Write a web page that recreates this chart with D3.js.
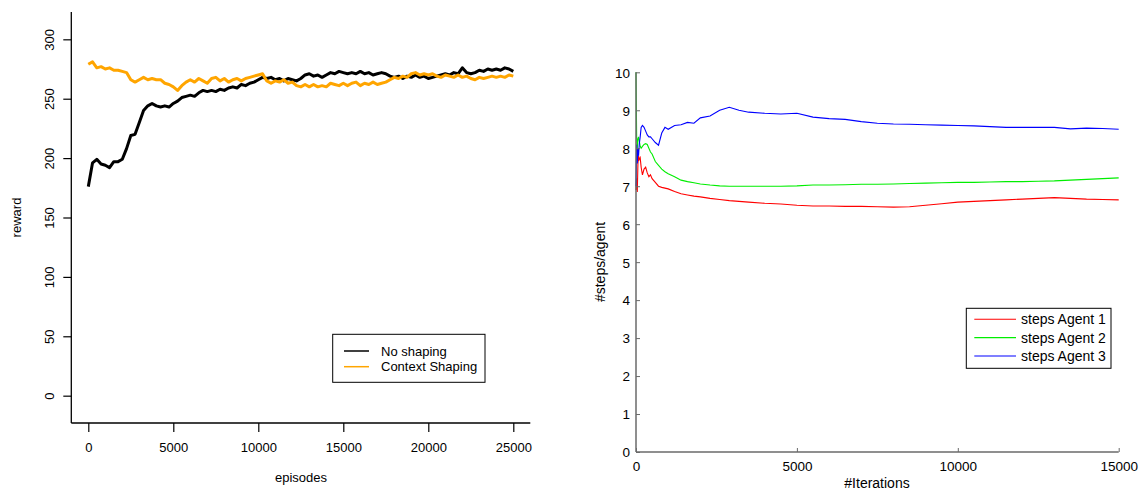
<!DOCTYPE html>
<html><head><meta charset="utf-8">
<script src="https://cdn.jsdelivr.net/npm/d3@7"></script>
<style>body{margin:0;background:#fff}svg{display:block}text{font-family:"Liberation Sans",Arial,sans-serif}</style>
</head><body><svg id="c" width="1143" height="491"></svg>
<script>
// ---------- Left chart data ----------
const episodes = [0,250,500,750,1000,1250,1500,1750,2000,2250,2500,2750,3000,3250,3500,3750,4000,4250,4500,4750,5000,5250,5500,5750,6000,6250,6500,6750,7000,7250,7500,7750,8000,8250,8500,8750,9000,9250,9500,9750,10000,10250,10500,10750,11000,11250,11500,11750,12000,12250,12500,12750,13000,13250,13500,13750,14000,14250,14500,14750,15000,15250,15500,15750,16000,16250,16500,16750,17000,17250,17500,17750,18000,18250,18500,18750,19000,19250,19500,19750,20000,20250,20500,20750,21000,21250,21500,21750,22000,22250,22500,22750,23000,23250,23500,23750,24000,24250,24500,24750,25000];
const noShaping = [176,196,199,195,194,192,197,197,199,208,219,220,230,240,244,246,244,243,244,243,246,248,251,252,253,252,255,257,256,257,256,258,257,259,260,259,262,261,263,264,266,268,267,268,266,267,265,267,266,265,267,270,271,269,270,268,270,272,271,273,272,271,272,271,273,271,272,270,271,272,271,269,268,269,267,269,268,270,268,269,267,268,269,270,271,270,272,271,276,272,271,272,274,273,275,274,275,274,276,275,273];
const contextShaping = [279,281,276,277,275,276,274,274,273,272,266,264,266,268,266,267,266,266,263,262,260,257,261,264,266,264,267,265,263,267,268,265,267,264,266,267,265,267,268,269,270,271,265,263,265,264,266,263,264,261,260,262,260,262,260,261,260,263,262,261,263,261,263,264,261,263,262,264,262,263,264,266,268,267,269,268,271,272,270,271,270,271,269,268,270,269,268,270,268,269,267,266,268,267,268,269,268,269,268,270,269];
const leftSeriesNames = ["No shaping","Context Shaping"];
const leftColors = ["#000000","#FFA500"];
const leftXTicks = [0,5000,10000,15000,20000,25000];
const leftYTicks = [0,50,100,150,200,250,300];

// ---------- Right chart data ----------
const iterations = [0,20,40,60,80,100,130,160,200,250,300,350,400,450,500,600,700,800,900,1000,1200,1400,1600,1800,2000,2300,2600,2900,3200,3500,4000,4500,5000,5500,6000,6500,7000,7500,8000,8500,9000,9500,10000,10500,11000,11500,12000,12500,13000,13500,14000,14500,15000];
const agent1 = [6.9,7.2,6.85,7.6,7.8,7.7,7.75,7.5,7.3,7.45,7.5,7.35,7.25,7.3,7.2,7.1,7.0,6.97,6.95,6.93,6.86,6.8,6.77,6.74,6.72,6.68,6.65,6.62,6.6,6.58,6.55,6.53,6.5,6.48,6.48,6.47,6.47,6.46,6.45,6.46,6.5,6.54,6.58,6.6,6.62,6.64,6.66,6.68,6.7,6.68,6.66,6.65,6.64];
const agent2 = [10,8.3,8.0,8.25,8.3,8.2,8.05,8.0,8.05,8.1,8.12,8.1,8.0,7.9,7.85,7.65,7.55,7.45,7.38,7.33,7.25,7.16,7.12,7.09,7.06,7.03,7.01,7.0,7.0,7.0,7.0,7.0,7.01,7.03,7.03,7.04,7.05,7.05,7.06,7.07,7.08,7.09,7.1,7.1,7.11,7.12,7.12,7.13,7.14,7.16,7.18,7.2,7.22];
const agent3 = [7.0,8.1,7.6,8.0,7.8,8.1,8.3,8.55,8.6,8.55,8.45,8.35,8.3,8.3,8.25,8.15,8.08,8.4,8.55,8.5,8.6,8.62,8.68,8.66,8.8,8.85,9.0,9.08,9.0,8.95,8.92,8.9,8.92,8.82,8.78,8.76,8.7,8.66,8.64,8.63,8.62,8.61,8.6,8.59,8.57,8.55,8.55,8.55,8.55,8.51,8.53,8.52,8.5];
const rightSeriesNames = ["steps Agent 1","steps Agent 2","steps Agent 3"];
const rightColors = ["#ff0000","#00ee00","#0000ff"];
const rightXTicks = [0,5000,10000,15000];
const rightYTicks = [0,1,2,3,4,5,6,7,8,9,10];

const svg = d3.select("#c");

// ================= LEFT =================
{
  const g = svg.append("g");
  const x = d3.scaleLinear().domain([-1000,26000]).range([71.3,530.3]);
  const y = d3.scaleLinear().domain([-23,323]).range([423,12]);
  const fs = 13;
  g.append("line").attr("x1",71.3).attr("x2",71.3).attr("y1",12).attr("y2",423).attr("stroke","#000").attr("stroke-width",1.3);
  g.append("line").attr("x1",71.3).attr("x2",530.3).attr("y1",423).attr("y2",423).attr("stroke","#000").attr("stroke-width",1.3);
  const xa = g.append("g").attr("transform","translate(0,423)").call(d3.axisBottom(x).tickValues(leftXTicks).tickSize(9).tickPadding(11).tickFormat(d3.format("d")));
  xa.select(".domain").remove();
  xa.selectAll("line").attr("stroke","#000").attr("stroke-width",1.2);
  xa.selectAll("text").attr("font-size",fs).attr("fill","#000").attr("font-family","Liberation Sans, Arial");
  const ya = g.append("g").attr("transform","translate(71.3,0)").call(d3.axisLeft(y).tickValues(leftYTicks).tickSize(8).tickFormat(d3.format("d")));
  ya.select(".domain").remove();
  ya.selectAll("line").attr("stroke","#000").attr("stroke-width",1.2);
  ya.selectAll("text").attr("font-size",fs).attr("fill","#000").attr("font-family","Liberation Sans, Arial")
    .attr("x",null).attr("dy",null).attr("text-anchor","middle")
    .attr("transform","translate(-17.8,0) rotate(-90)");
  g.append("text").attr("x",301).attr("y",482).attr("text-anchor","middle").attr("font-size",fs).text("episodes");
  g.append("text").attr("transform","translate(20.5,217.5) rotate(-90)").attr("text-anchor","middle").attr("font-size",fs).text("reward");
  const series = [noShaping, contextShaping];
  series.forEach((vals,i)=>{
    const line = d3.line().x((d,j)=>x(episodes[j])).y(d=>y(d));
    g.append("path").datum(vals).attr("d",line).attr("fill","none").attr("stroke",leftColors[i]).attr("stroke-width",3).attr("stroke-linejoin","round");
  });
  const lg = g.append("g");
  lg.append("rect").attr("x",332.7).attr("y",334.3).attr("width",152.3).attr("height",48).attr("fill","#fff").attr("stroke","#000").attr("stroke-width",1);
  leftSeriesNames.forEach((n,i)=>{
    const yy = 351 + i*15.7;
    lg.append("line").attr("x1",344).attr("x2",369).attr("y1",yy).attr("y2",yy).attr("stroke",leftColors[i]).attr("stroke-width",1.5);
    lg.append("text").attr("x",381).attr("y",yy+4.6).attr("font-size",fs).text(n);
  });
}

// ================= RIGHT =================
{
  const g = svg.append("g");
  const x = d3.scaleLinear().domain([0,15000]).range([636,1118.7]);
  const y = d3.scaleLinear().domain([0,10]).range([452,72.3]);
  const ax = "#6a6a6a";
  const fs = 13.5;
  const series = [agent1, agent2, agent3];
  const line = d3.line().x((d,j)=>x(iterations[j])).y(d=>y(d));
  series.forEach((vals,i)=>{
    g.append("path").datum(vals).attr("d",line).attr("fill","none").attr("stroke",rightColors[i]).attr("stroke-width",1.1);
  });
  g.append("line").attr("x1",636).attr("x2",636).attr("y1",72.3).attr("y2",452).attr("stroke",ax).attr("stroke-width",1.5);
  g.append("line").attr("x1",636).attr("x2",1118.7).attr("y1",452).attr("y2",452).attr("stroke",ax).attr("stroke-width",1.5);
  const xa = g.append("g").attr("transform","translate(0,452)").call(d3.axisTop(x).tickValues(rightXTicks).tickSize(4).tickFormat(d3.format("d")));
  xa.select(".domain").remove();
  xa.selectAll("line").attr("stroke",ax);
  xa.selectAll("text").attr("y",19.3).attr("dy",null).attr("font-size",fs).attr("fill","#000").attr("font-family","Liberation Sans, Arial");
  const ya = g.append("g").attr("transform","translate(636,0)").call(d3.axisRight(y).tickValues(rightYTicks).tickSize(4).tickFormat(d3.format("d")));
  ya.select(".domain").remove();
  ya.selectAll("line").attr("stroke",ax);
  ya.selectAll("text").attr("x",-6).attr("text-anchor","end").attr("dy","0.36em").attr("font-size",fs).attr("fill","#000").attr("font-family","Liberation Sans, Arial");
  g.append("text").attr("x",877).attr("y",488).attr("text-anchor","middle").attr("font-size",14).text("#Iterations");
  g.append("text").attr("transform","translate(604.5,262) rotate(-90)").attr("text-anchor","middle").attr("font-size",14).text("#steps/agent");
  const lg = g.append("g");
  lg.append("rect").attr("x",966.3).attr("y",308.3).attr("width",144.7).attr("height",60).attr("fill","#fff").attr("stroke","#000").attr("stroke-width",1);
  rightSeriesNames.forEach((n,i)=>{
    const yy = 319.3 + i*18.35;
    lg.append("line").attr("x1",974.3).attr("x2",1016).attr("y1",yy).attr("y2",yy).attr("stroke",rightColors[i]).attr("stroke-width",1.1);
    lg.append("text").attr("x",1021).attr("y",yy+5).attr("font-size",14).text(n);
  });
}
</script>
</body></html>
